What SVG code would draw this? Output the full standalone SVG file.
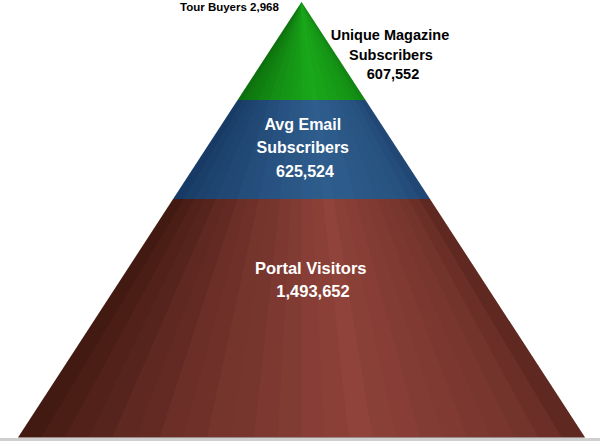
<svg xmlns="http://www.w3.org/2000/svg" width="600" height="441" viewBox="0 0 600 441">
  <style>
    .lbl { font-family: "Liberation Sans", Arial, sans-serif; font-weight: bold; }
    .dark { fill: #000000; }
    .light { fill: #ffffff; }
  </style>
  <defs>
    <mask id="fan" maskUnits="userSpaceOnUse" x="0" y="0" width="600" height="441">
      <g>
        <polygon points="301.5,2 -10,437 620,437" fill="#171717"/>
        <polygon points="301.5,2 41.6,437 620,437" fill="#2d2d2d"/>
        <polygon points="301.5,2 65.25,437 620,437" fill="#464646"/>
        <polygon points="301.5,2 88.9,437 620,437" fill="#525252"/>
        <polygon points="301.5,2 112.5,437 620,437" fill="#6c6c6c"/>
        <polygon points="301.5,2 136.1,437 620,437" fill="#767676"/>
        <polygon points="301.5,2 159.75,437 620,437" fill="#909090"/>
        <polygon points="301.5,2 183.4,437 620,437" fill="#999999"/>
        <polygon points="301.5,2 207,437 620,437" fill="#aeaeae"/>
        <polygon points="301.5,2 230.6,437 620,437" fill="#b4b4b4"/>
        <polygon points="301.5,2 254.25,437 620,437" fill="#c9c9c9"/>
        <polygon points="301.5,2 277.9,437 620,437" fill="#d1d1d1"/>
        <polygon points="301.5,2 301.5,437 620,437" fill="#eaeaea"/>
        <polygon points="301.5,2 325.1,437 620,437" fill="#f1f1f1"/>
        <polygon points="301.5,2 348.75,437 620,437" fill="#ffffff"/>
        <polygon points="301.5,2 372.4,437 620,437" fill="#efefef"/>
        <polygon points="301.5,2 396,437 620,437" fill="#e9e9e9"/>
        <polygon points="301.5,2 419.6,437 620,437" fill="#dadada"/>
        <polygon points="301.5,2 443.25,437 620,437" fill="#d3d3d3"/>
        <polygon points="301.5,2 466.9,437 620,437" fill="#c4c4c4"/>
        <polygon points="301.5,2 490.5,437 620,437" fill="#bbbbbb"/>
        <polygon points="301.5,2 514.1,437 620,437" fill="#ababab"/>
        <polygon points="301.5,2 537.75,437 620,437" fill="#919191"/>
        <polygon points="301.5,2 561.4,437 620,437" fill="#6d6d6d"/>
      </g>
    </mask>
  </defs>

  <rect x="0" y="438" width="600" height="3" fill="#cfcfcf"/>

  <g id="portal-visitors">
    <polygon points="173.1,199 429.9,199 585,437.5 18,437.5" fill="#3c160e"/>
    <polygon points="173.1,199 429.9,199 585,437.5 18,437.5" fill="#8f433a" mask="url(#fan)"/>
    <text class="lbl light" font-size="16.5" text-anchor="middle">
      <tspan x="313" y="274">Portal Visitors</tspan>
      <tspan x="313" y="297">1,493,652</tspan>
    </text>
  </g>

  <g id="email-subscribers">
    <polygon points="237.6,100 365.4,100 429.9,199 173.1,199" fill="#173862"/>
    <polygon points="237.6,100 365.4,100 429.9,199 173.1,199" fill="#2f5e8e" mask="url(#fan)"/>
    <text class="lbl light" font-size="16" text-anchor="middle">
      <tspan x="305" y="130">Avg Email</tspan>
      <tspan x="305" y="153">Subscribers</tspan>
      <tspan x="305" y="177">625,524</tspan>
    </text>
  </g>

  <g id="magazine-subscribers">
    <polygon points="301.5,2 365.4,100 237.6,100" fill="#0c6c0c"/>
    <polygon points="301.5,2 365.4,100 237.6,100" fill="#1aa81a" mask="url(#fan)"/>
    <text class="lbl dark" font-size="14.5" text-anchor="middle">
      <tspan x="392" y="40">Unique Magazine</tspan>
      <tspan x="393" y="60">Subscribers</tspan>
      <tspan x="393" y="79">607,552</tspan>
    </text>
  </g>

  <g id="tour-buyers">
    <text class="lbl dark" font-size="11.5" x="180" y="11">Tour Buyers 2,968</text>
  </g>
</svg>
